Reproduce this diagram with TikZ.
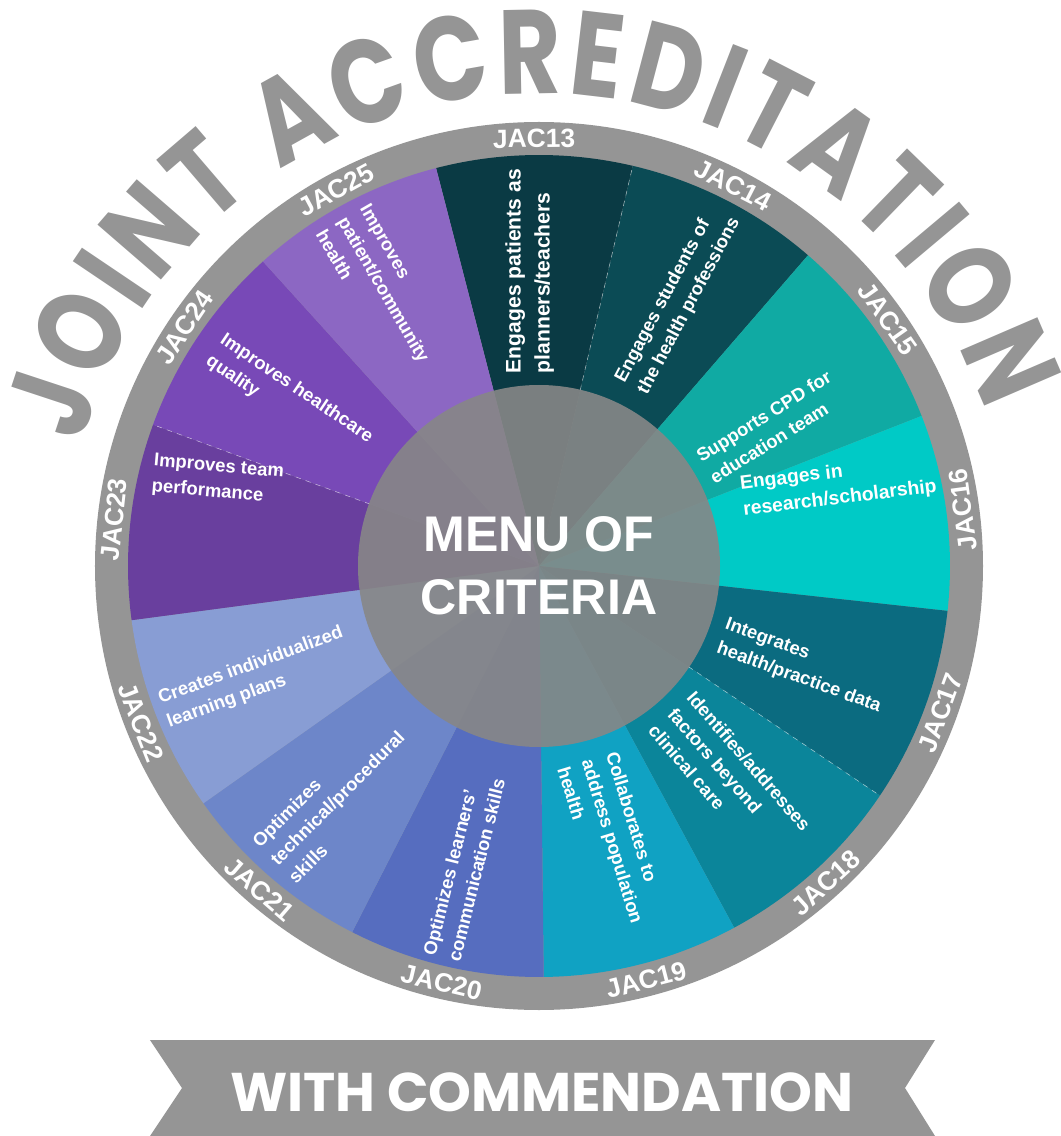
\documentclass[tikz,border=0pt]{standalone}
\usepackage{fontspec}
\setmainfont{Liberation Sans}
\newfontfamily\titlefont{Poppins}[FakeStretch=0.8]
\newfontfamily\bannerfont{Poppins}
\usepackage{xcolor}
\usepackage{tikz}
\usetikzlibrary{decorations.text}

\definecolor{ringgrey}{HTML}{959595}
\definecolor{centregrey}{HTML}{878787}
\definecolor{jac13}{HTML}{0A3A44}
\definecolor{jac14}{HTML}{0B4B55}
\definecolor{jac15}{HTML}{10AAA3}
\definecolor{jac16}{HTML}{00CAC6}
\definecolor{jac17}{HTML}{0B6B80}
\definecolor{jac18}{HTML}{0B859A}
\definecolor{jac19}{HTML}{10A2C3}
\definecolor{jac20}{HTML}{566DBF}
\definecolor{jac21}{HTML}{6D86C9}
\definecolor{jac22}{HTML}{889DD4}
\definecolor{jac23}{HTML}{693F9E}
\definecolor{jac24}{HTML}{7849B7}
\definecolor{jac25}{HTML}{8C67C3}

\tikzset{
  ringlabel/.style={text=white,inner sep=0pt,font=\fontsize{15}{15}\selectfont\bfseries},
  crit/.style={text=white,align=left,inner sep=0pt,font=\fontsize{10.5}{14.5}\selectfont\bfseries},
  seam/.style={white,dashed,line width=0.3pt,opacity=0.6}
}

\begin{document}
\begin{tikzpicture}
    \useasboundingbox (-10.78,-11.40) rectangle (10.44,11.32);
    % title round the top
    \path[decorate,decoration={text along path,text align={fit to path},
        text={|\fontsize{68}{72}\selectfont\titlefont\bfseries\color{ringgrey}|JOINT ACCREDITATION}}]
        (165:9.45) arc[start angle=165,end angle=19,radius=9.45];
    % grey ring and wedges
    \fill[ringgrey] (0,0) circle (8.88);
    \fill[jac13] (0,0) -- (104.5:8.22) arc[start angle=104.5,end angle=76.81,radius=8.22] -- cycle;
    \fill[jac14] (0,0) -- (76.81:8.22) arc[start angle=76.81,end angle=49.12,radius=8.22] -- cycle;
    \fill[jac15] (0,0) -- (49.12:8.22) arc[start angle=49.12,end angle=21.42,radius=8.22] -- cycle;
    \fill[jac16] (0,0) -- (21.42:8.22) arc[start angle=21.42,end angle=-6.27,radius=8.22] -- cycle;
    \fill[jac17] (0,0) -- (-6.27:8.22) arc[start angle=-6.27,end angle=-33.96,radius=8.22] -- cycle;
    \fill[jac18] (0,0) -- (-33.96:8.22) arc[start angle=-33.96,end angle=-61.65,radius=8.22] -- cycle;
    \fill[jac19] (0,0) -- (-61.65:8.22) arc[start angle=-61.65,end angle=-89.34,radius=8.22] -- cycle;
    \fill[jac20] (0,0) -- (-89.34:8.22) arc[start angle=-89.34,end angle=-117.03,radius=8.22] -- cycle;
    \fill[jac21] (0,0) -- (-117.03:8.22) arc[start angle=-117.03,end angle=-144.73,radius=8.22] -- cycle;
    \fill[jac22] (0,0) -- (-144.73:8.22) arc[start angle=-144.73,end angle=-172.42,radius=8.22] -- cycle;
    \fill[jac23] (0,0) -- (187.58:8.22) arc[start angle=187.58,end angle=159.89,radius=8.22] -- cycle;
    \fill[jac24] (0,0) -- (159.89:8.22) arc[start angle=159.89,end angle=132.19,radius=8.22] -- cycle;
    \fill[jac25] (0,0) -- (132.19:8.22) arc[start angle=132.19,end angle=104.5,radius=8.22] -- cycle;
    \draw[seam] (76.81:3.6) -- (76.81:8.22);
    \draw[seam] (-33.96:3.6) -- (-33.96:8.22);
    \draw[seam] (159.89:3.6) -- (159.89:8.22);
    % centre
    \node[circle,fill=centregrey,fill opacity=0.9,text opacity=1,minimum size=7.24cm,
        text=white,align=center,font=\fontsize{28.5}{36}\selectfont\bfseries] (menu) at (0,0) {MENU OF\\CRITERIA};
    % labels on the ring
    \node[ringlabel,rotate=0.65] (jac13) at (90.65:8.55) {JAC13};
    \node[ringlabel,rotate=-27.04] (jac14) at (62.96:8.55) {JAC14};
    \node[ringlabel,rotate=-54.73] (jac15) at (35.27:8.55) {JAC15};
    \node[ringlabel,rotate=97.58] (jac16) at (7.58:8.55) {JAC16};
    \node[ringlabel,rotate=69.89] (jac17) at (-20.11:8.55) {JAC17};
    \node[ringlabel,rotate=42.19] (jac18) at (-47.81:8.55) {JAC18};
    \node[ringlabel,rotate=14.5] (jac19) at (-75.5:8.55) {JAC19};
    \node[ringlabel,rotate=-13.19] (jac20) at (-103.19:8.55) {JAC20};
    \node[ringlabel,rotate=-40.88] (jac21) at (-130.88:8.55) {JAC21};
    \node[ringlabel,rotate=-68.57] (jac22) at (-158.57:8.55) {JAC22};
    \node[ringlabel,rotate=83.73] (jac23) at (173.73:8.55) {JAC23};
    \node[ringlabel,rotate=56.04] (jac24) at (146.04:8.55) {JAC24};
    \node[ringlabel,rotate=28.35] (jac25) at (118.35:8.55) {JAC25};
    % criteria in the wedges
    \node[crit,rotate=90,font=\fontsize{12}{16.5}\selectfont\bfseries] (t13) at (91.8:5.9) {Engages patients as\\planners/teachers};
    \node[crit,rotate=62] (t14) at (62.4:6.0) {Engages students of\\the health professions};
    \node[crit,rotate=32] (t15) at (31:5.4) {Supports CPD for\\education team};
    \node[crit,rotate=7,font=\fontsize{11}{15}\selectfont\bfseries] (t16) at (15:6.2) {Engages in\\research/scholarship};
    \node[crit,rotate=-20] (t17) at (-20.8:5.65) {Integrates\\health/practice data};
    \node[crit,rotate=-49] (t18) at (-48:5.7) {Identifies/addresses\\factors beyond\\clinical care};
    \node[crit,rotate=-73] (t19) at (-75:5.7) {Collaborates to\\address population\\health};
    \node[crit,rotate=76] (t20) at (-104:6.2) {Optimizes learners'\\communication skills};
    \node[crit,rotate=45] (t21) at (-131:6.15) {Optimizes\\technical/procedural\\skills};
    \node[crit,rotate=20] (t22) at (-158.5:6.1) {Creates individualized\\learning plans};
    \node[crit,rotate=-5] (t23) at (165:6.65) {Improves team\\performance};
    \node[crit,rotate=-34] (t24) at (146.3:6.0) {Improves healthcare\\quality};
    \node[crit,rotate=-60] (t25) at (119.3:6.34) {Improves\\patient/community\\health};
    % banner
    \fill[ringgrey] (-7.78,-9.48) -- (7.92,-9.48) -- (7.32,-10.44) -- (7.92,-11.40)
        -- (-7.78,-11.40) -- (-7.14,-10.44) -- cycle;
    \node[text=white,inner sep=0pt,font=\fontsize{31}{31}\selectfont\bannerfont\bfseries] (commend) at (0.06,-10.52) {WITH COMMENDATION};
\end{tikzpicture}
\end{document}
